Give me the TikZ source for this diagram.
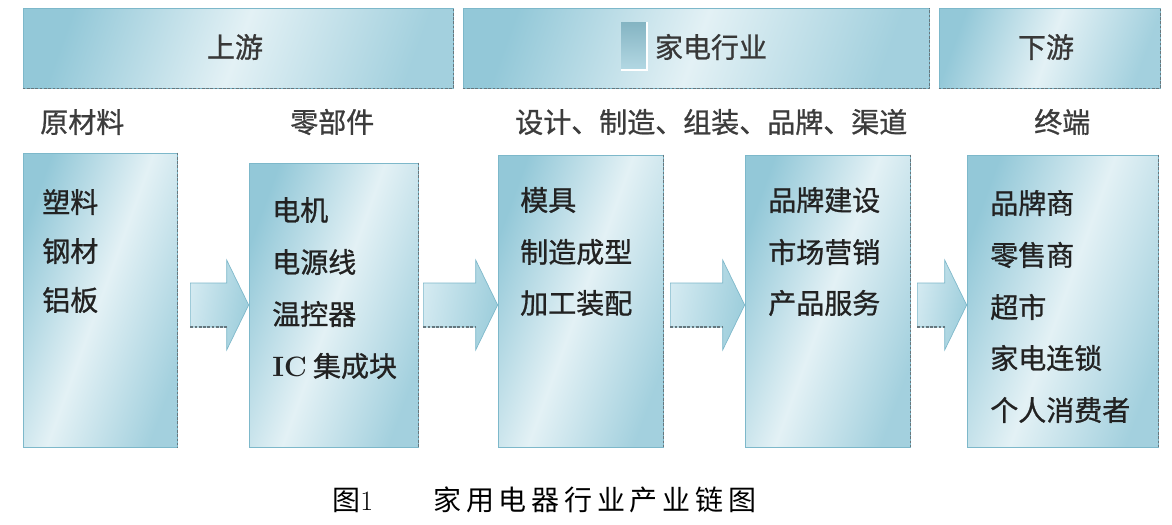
\documentclass[tikz,border=0pt]{standalone}
\usepackage{fontspec}
\newfontfamily\cjk{Noto Sans CJK SC}
\newfontfamily\cjkb[FakeBold=0.9]{Noto Sans CJK SC}
\usetikzlibrary{calc}
\definecolor{edgeblue}{HTML}{93C8D8}
\definecolor{midblue}{HTML}{E3F1F5}
\definecolor{lineblue}{HTML}{7DB8CA}
\definecolor{txt}{HTML}{222222}
\definecolor{dashgray}{HTML}{66777E}
\definecolor{arrlight}{HTML}{D4EAF1}
\definecolor{arrdark}{HTML}{9CCDDB}

\newcommand\blockarrow[3]{%
  \path[arrowfill] let \p1=(#1.east), \p2=(#2.west), \p3=(arrowy) in
    (\x1+#3,\y3+16.5pt) -- (\x2-16.5pt,\y3+16.5pt) -- (\x2-16.5pt,\y3+33.75pt)
    -- (\x2,\y3) -- (\x2-16.5pt,\y3-33.75pt) -- (\x2-16.5pt,\y3-16.5pt)
    -- (\x1+#3,\y3-16.5pt) -- cycle;
  \draw[edgedash] let \p1=(#1.east), \p2=(#2.west), \p3=(arrowy) in
    (\x1+#3,\y3-16.5pt) -- (\x2-16.5pt,\y3-16.5pt);
}

\begin{document}
\begin{tikzpicture}[x=0.75pt,y=-0.75pt,
  panel/.style={draw=lineblue, line width=0.5pt, left color=edgeblue, right color=edgeblue!85!white,
     middle color=midblue, shading angle=70, inner sep=0pt},
  hdrtext/.style={inner sep=0pt, font=\cjkb\fontsize{21}{21}\selectfont, text=txt!90!white},
  label/.style={anchor=west, inner sep=0pt, font=\cjkb\fontsize{21}{21}\selectfont, text=txt!88!white},
  item/.style={anchor=west, inner sep=0pt, font=\cjkb\fontsize{21}{21}\selectfont, text=txt},
  edgedash/.style={draw=dashgray, dashed, dash pattern=on 2pt off 1.2pt, line width=0.9pt},
  arrowfill/.style={draw=lineblue, line width=0.5pt, left color=arrlight, right color=arrdark, shading angle=80},
  captext/.style={anchor=west, inner sep=0pt, font=\cjk\fontsize{21}{21}\selectfont, text=black}
]
\fill[white] (0,0) rectangle (1172,525);
\useasboundingbox (0,0) rectangle (1172,525);

% header bars
\node[panel, minimum width=322.5pt, minimum height=60pt] (h1) at (238,48) {};
\node[panel, minimum width=349.5pt, minimum height=60pt] (h2) at (696,48) {};
\node[panel, minimum width=165.75pt, minimum height=60pt] (h3) at (1049.5,48) {};
\foreach \h in {h1,h2,h3}{
  \draw[edgedash] (\h.south west) -- (\h.south east) -- (\h.north east);
}
\path[top color=edgeblue!90!black, bottom color=edgeblue!70!white] (621,22) rectangle (647,70);
\draw[white, line width=1pt] (621,70) -- (647,70) -- (647,22);
\node[hdrtext] (ht1) at (235,47) {上游};
\node[hdrtext] (ht2) at (711,47) {家电行业};
\node[hdrtext] (ht3) at (1046,47) {下游};

% stage labels
\node[label] (l1) at (40,122) {原材料};
\node[label] (l2) at (290,122) {零部件};
\node[label] (l3) at (515,122) {设计、制造、组装、品牌、渠道};
\node[label] (l4) at (1034,122) {终端};

% boxes
\node[panel, minimum width=115.5pt, minimum height=220.5pt] (b1) at (100,300) {};
\node[panel, minimum width=126.75pt, minimum height=213pt] (b2) at (333.5,305) {};
\node[panel, minimum width=123.75pt, minimum height=219pt] (b3) at (580.5,301) {};
\node[panel, minimum width=123.75pt, minimum height=219pt] (b4) at (827.5,301) {};
\node[panel, minimum width=143.25pt, minimum height=219pt] (b5) at (1062.5,301) {};
\foreach \b in {b1,b2,b3,b4,b5}{
  \draw[edgedash, line width=0.6pt] (\b.north east) -- (\b.south east);
}

% arrows
\coordinate (arrowy) at (0,305);
\blockarrow{b1}{b2}{9.75pt}
\blockarrow{b2}{b3}{3.75pt}
\blockarrow{b3}{b4}{5.25pt}
\blockarrow{b4}{b5}{5.25pt}

% box texts
\node[item] (t11) at (42,202) {塑料};
\node[item] (t12) at (42,251) {钢材};
\node[item] (t13) at (42,300) {铝板};

\node[item] (t21) at (272,210) {电机};
\node[item] (t22) at (272,262) {电源线};
\node[item] (t23) at (272,314) {温控器};
\node[item] (t24) at (272,366) {{\rmfamily\bfseries IC} 集成块};

\node[item] (t31) at (520,200) {模具};
\node[item] (t32) at (520,252) {制造成型};
\node[item] (t33) at (520,303) {加工装配};

\node[item] (t41) at (768,200) {品牌建设};
\node[item] (t42) at (768,252) {市场营销};
\node[item] (t43) at (768,303) {产品服务};

\node[item] (t51) at (990,203) {品牌商};
\node[item] (t52) at (990,255) {零售商};
\node[item] (t53) at (990,307) {超市};
\node[item] (t54) at (990,358) {家电连锁};
\node[item] (t55) at (990,410) {个人消费者};

% caption
\node[captext] (cap1) at (332,500) {图{\rmfamily 1}};
\node[captext] (cap2) at (433,500) {\addfontfeature{LetterSpace=17}家用电器行业产业链图};
\end{tikzpicture}
\end{document}
